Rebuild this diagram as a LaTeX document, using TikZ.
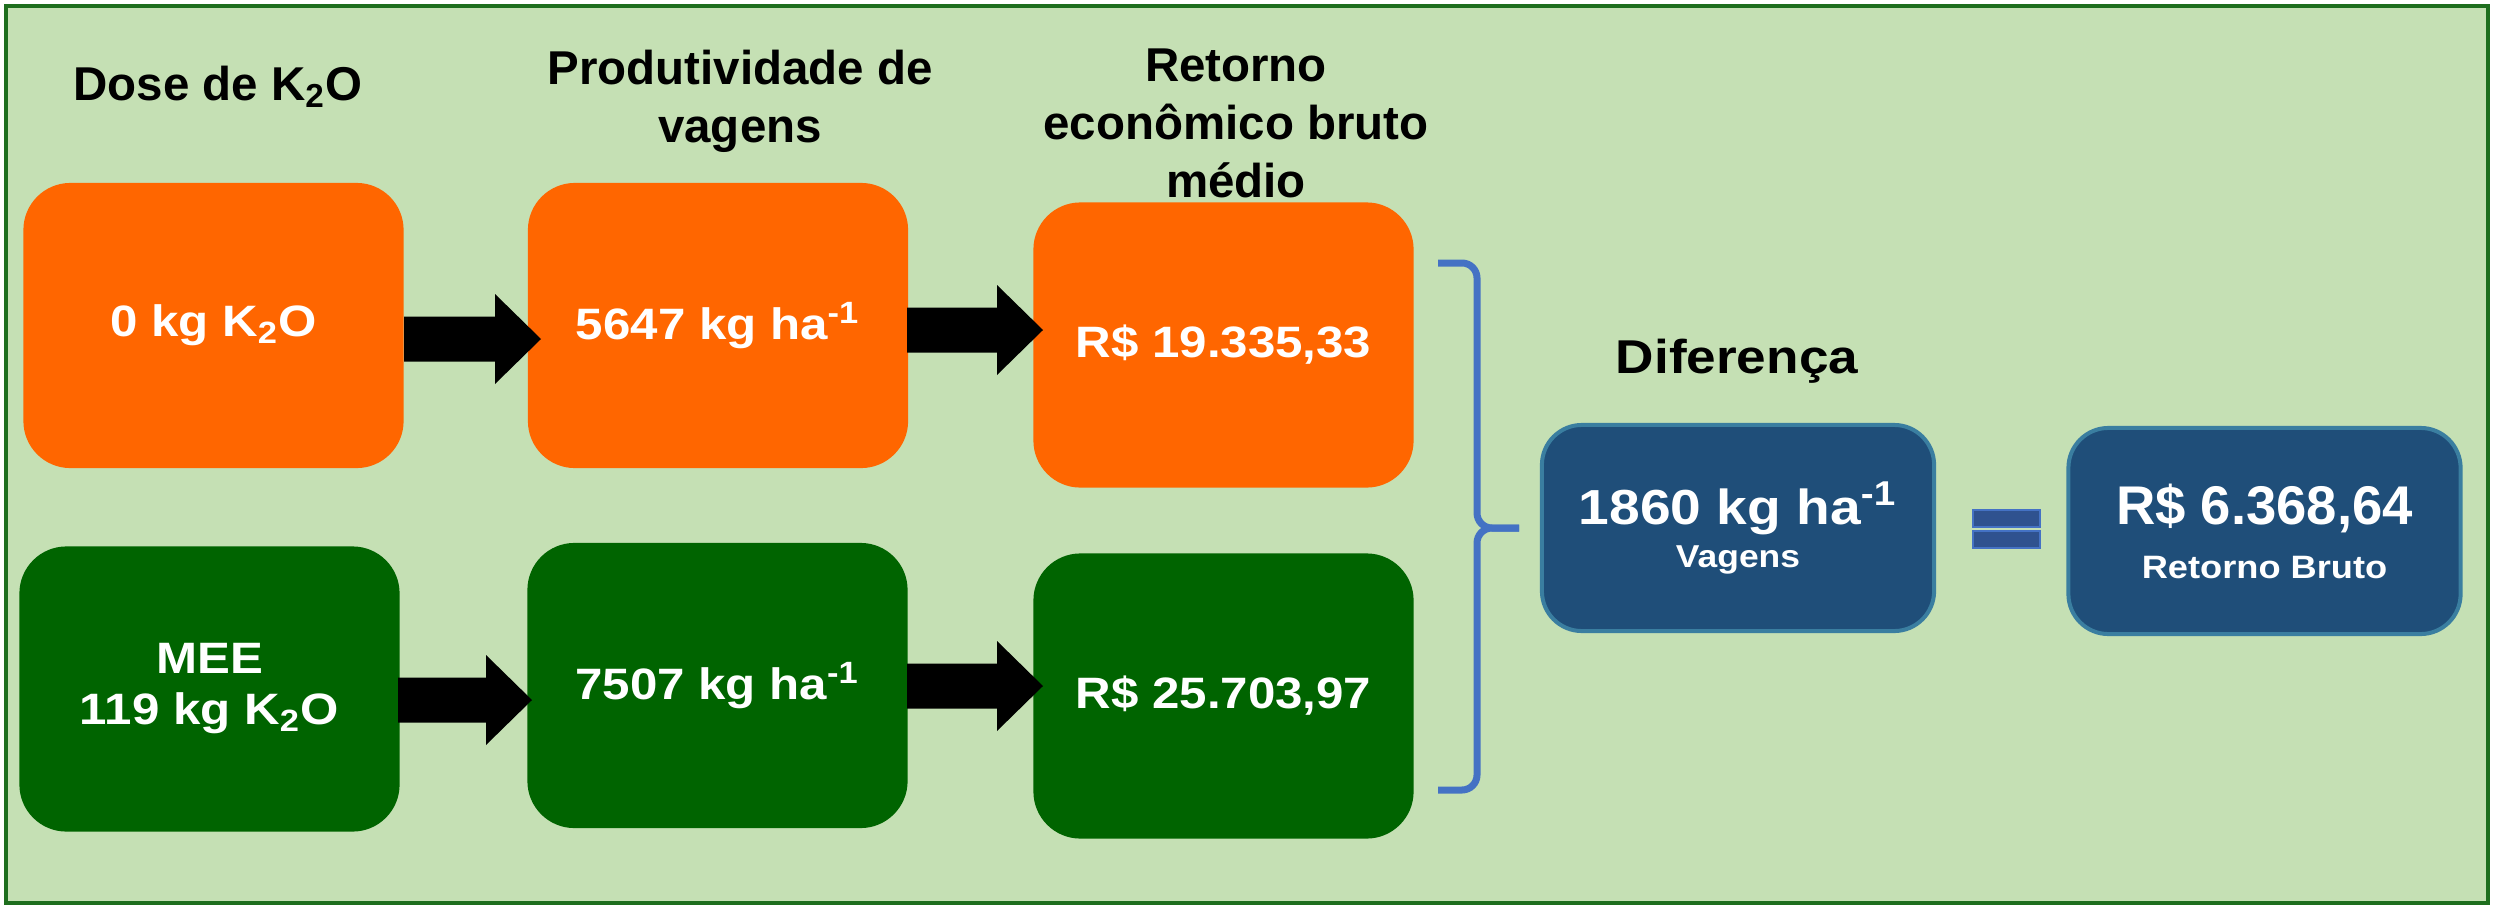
\documentclass[tikz,border=0pt]{standalone}
\usepackage{fontspec}
\setmainfont{Liberation Sans}
\newfontfamily\widefont[FakeStretch=1.12]{Liberation Sans}
\usetikzlibrary{calc}

\definecolor{bggreen}{RGB}{197,224,180}
\definecolor{framegreen}{RGB}{30,110,30}
\definecolor{korange}{RGB}{255,102,0}
\definecolor{kgreen}{RGB}{0,100,0}
\definecolor{kblue}{RGB}{31,78,121}
\definecolor{kblueline}{RGB}{58,126,160}
\definecolor{eqblue}{RGB}{47,82,143}
\definecolor{eqline}{RGB}{68,114,196}
\definecolor{bracecol}{RGB}{68,114,196}

% block arrow from #1 to tip #2 (same height)
\newcommand{\bigarrow}[2]{%
  \fill[black] ($(#1)+(0,-22.5)$) -- ($(#2)+(-46,-22.5)$) -- ($(#2)+(-46,-45)$) -- (#2)
    -- ($(#2)+(-46,45)$) -- ($(#2)+(-46,22.5)$) -- ($(#1)+(0,22.5)$) -- cycle;}

\begin{document}
\begin{tikzpicture}[x=0.01cm,y=-0.01cm]
  \tikzstyle{title}=[font=\bfseries\fontsize{13.5}{16.5}\selectfont,align=center,inner sep=0pt]
  \tikzstyle{box}=[rounded corners=0.47cm,minimum width=3.8cm,minimum height=2.85cm,inner sep=0pt,align=center,text=white,font=\widefont\bfseries\fontsize{12.5}{14.5}\selectfont]
  \tikzstyle{sumbox}=[draw=kblueline,line width=0.04cm,fill=kblue,rounded corners=0.4cm,minimum width=3.92cm,minimum height=2.06cm,inner sep=0pt,align=center,text=white]
  \tikzstyle{bracket}=[draw=bracecol,line width=0.07cm,rounded corners=0.15cm]
  \tikzstyle{eqbar}=[fill=eqblue,draw=eqline,line width=0.015cm]

  \useasboundingbox (0,0) rectangle (2494,906);
  \draw[fill=bggreen,draw=framegreen,line width=0.04cm] (6,6) rectangle (2488,903);

  % Column titles
  \node[title,anchor=base] (tdose) at (218,100) {Dose de K\textsubscript{2}O};
  \node[title] (tprod) at (740,101) {Produtividade de\\vagens};
  \node[title] (tret) at (1236,123) {Retorno\\econômico bruto\\médio};

  % Control row
  \node[box,fill=korange] (dose0) at (213.5,325.5) {0 kg K\textsubscript{2}O};
  \node[box,fill=korange] (prod0) at (718,325.5) {5647 kg ha\textsuperscript{-1}};
  \node[box,fill=korange] (ret0) at (1223.5,345) {R\$ 19.335,33};

  % MEE row
  \node[box,fill=kgreen] (dosemee) at (209.5,689) {MEE\\119 kg K\textsubscript{2}O};
  \node[box,fill=kgreen] (prodmee) at (717.5,685.5) {7507 kg ha\textsuperscript{-1}};
  \node[box,fill=kgreen] (retmee) at (1223.5,696) {R\$ 25.703,97};

  % Arrows
  \coordinate (a1s) at (404,339);  \coordinate (a1e) at (541,339);
  \coordinate (a2s) at (907,330);  \coordinate (a2e) at (1043,330);
  \coordinate (a3s) at (398,700);  \coordinate (a3e) at (532,700);
  \coordinate (a4s) at (907,686);  \coordinate (a4e) at (1043,686);
  \bigarrow{a1s}{a1e}
  \bigarrow{a2s}{a2e}
  \bigarrow{a3s}{a3e}
  \bigarrow{a4s}{a4e}

  % Brace
  \draw[bracket] (1438,263) -| (1477,528) -- (1519,528);
  \draw[bracket] (1438,790) -| (1477,528) -- (1519,528);

  % Difference
  \node[anchor=base,inner sep=0pt,font=\widefont\bfseries\fontsize{13.5}{16}\selectfont] (tdif) at (1737,373) {Diferença};
  \node[sumbox,font=\widefont\bfseries\fontsize{9}{12.2}\selectfont] (difprod) at (1738,528)
    {{\fontsize{14}{14}\selectfont 1860 kg ha\textsuperscript{-1}}\\Vagens};
  \draw[eqbar] (1973,510) rectangle (2040,527);
  \draw[eqbar] (1973,531) rectangle (2040,548);
  \node[sumbox,font=\widefont\bfseries\fontsize{9.2}{15.4}\selectfont] (difret) at (2264.5,531)
    {{\normalfont\bfseries\fontsize{15.5}{15.5}\selectfont R\$ 6.368,64}\\Retorno Bruto};

\end{tikzpicture}
\end{document}
